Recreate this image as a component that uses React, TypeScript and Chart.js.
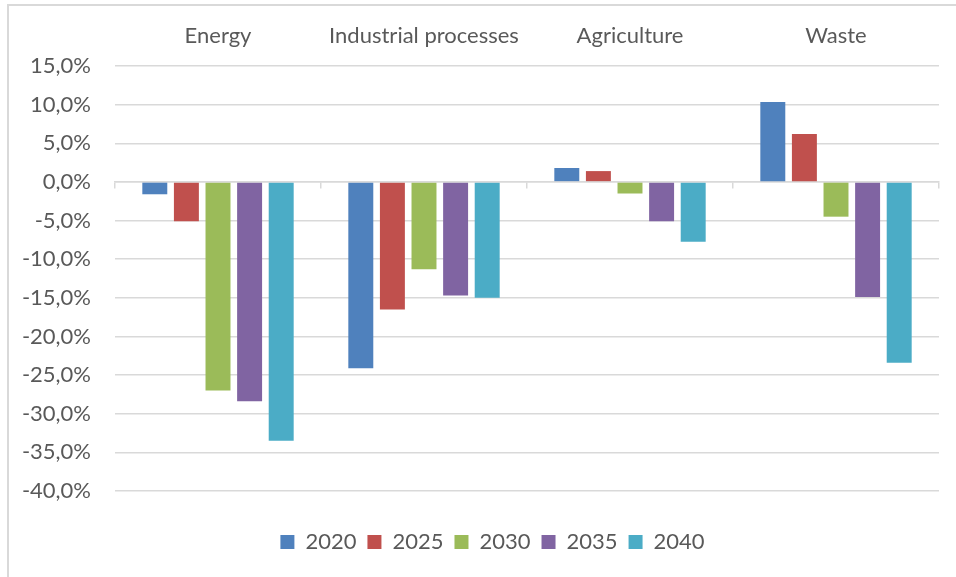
import React, { useEffect, useRef } from "react";
import { Chart, registerables } from "chart.js";

Chart.register(...registerables);

const categories = ["Energy", "Industrial processes", "Agriculture", "Waste"];
const seriesLabels = ["2020", "2025", "2030", "2035", "2040"];
const values2020 = [-1.6, -24.1, 1.8, 10.35];
const values2025 = [-5.1, -16.5, 1.4, 6.2];
const values2030 = [-27.0, -11.3, -1.5, -4.5];
const values2035 = [-28.4, -14.7, -5.1, -14.9];
const values2040 = [-33.5, -15.0, -7.75, -23.4];
const seriesColors = ["#4F81BD", "#C0504D", "#9BBB59", "#8064A2", "#4BACC6"];
const yMin = -40;
const yMax = 15;
const yStep = 5;

const FONT = "Lato";
const TEXT = "#595959";
const GRID = "#d9d9d9";
const LEGEND_SHIFT = 46;

const legendShift = {
  id: "legendShift",
  beforeDraw(chart: any) {
    if (chart.legend) {
      chart.legend.left = LEGEND_SHIFT;
    }
  },
};

export default function App() {
  const ref = useRef<HTMLCanvasElement | null>(null);
  useEffect(() => {
    if (!ref.current) return;
    const all = [values2020, values2025, values2030, values2035, values2040];
    const chart = new Chart(ref.current, {
      type: "bar",
      data: {
        labels: categories,
        datasets: all.map((d, i) => ({
          label: seriesLabels[i],
          data: d,
          backgroundColor: seriesColors[i],
          borderWidth: 0,
          categoryPercentage: 0.767,
          barPercentage: 0.79,
          xAxisID: "x",
        })),
      },
      plugins: [legendShift],
      options: {
        animation: false,
        responsive: false,
        maintainAspectRatio: false,
        layout: { padding: { left: 0, right: 17, top: 0, bottom: 14 } },
        plugins: {
          tooltip: { enabled: false },
          legend: {
            position: "bottom",
            labels: {
              boxWidth: 14,
              boxHeight: 14,
              padding: 11,
              color: TEXT,
              font: { family: FONT, size: 22 },
            },
          },
        },
        scales: {
          x: {
            position: "top",
            grid: { display: false },
            border: { display: false },
            ticks: { color: TEXT, font: { family: FONT, size: 22 }, padding: 9, maxRotation: 0 },
            afterFit: (s: any) => { s.height = 66; },
          },
          xz: {
            type: "category",
            labels: categories,
            position: { y: 0 } as any,
            offset: true,
            grid: { display: true, drawOnChartArea: false, drawTicks: true, tickLength: 6, color: GRID, lineWidth: 1.5, offset: true },
            border: { display: true, color: GRID, width: 1.5 },
            ticks: { display: false },
          },
          xb: {
            type: "category",
            labels: categories,
            position: "bottom",
            grid: { display: false },
            border: { display: false },
            ticks: { display: false },
            afterFit: (s: any) => { s.height = 29; },
          },
          y: {
            min: yMin,
            max: yMax,
            ticks: {
              stepSize: yStep,
              color: TEXT,
              font: { family: FONT, size: 22 },
              padding: 24,
              callback: (v: any) => Number(v).toFixed(1).replace(".", ",") + "%",
            },
            grid: { color: GRID, lineWidth: 1.5, drawTicks: false },
            border: { display: false },
            afterFit: (s: any) => { s.width = 115; },
          },
        },
      },
    });
    return () => chart.destroy();
  }, []);
  return (
    <div style={{ position: "absolute", left: 0, top: 0, width: 956, height: 577, overflow: "hidden", background: "#fff" }}>
      <canvas ref={ref} width={956} height={577} style={{ position: "absolute", left: 0, top: 0 }} />
      <div style={{ position: "absolute", left: 7, top: 4, width: 980, height: 600, border: "2px solid #d9d9d9", pointerEvents: "none" }} />
    </div>
  );
}
